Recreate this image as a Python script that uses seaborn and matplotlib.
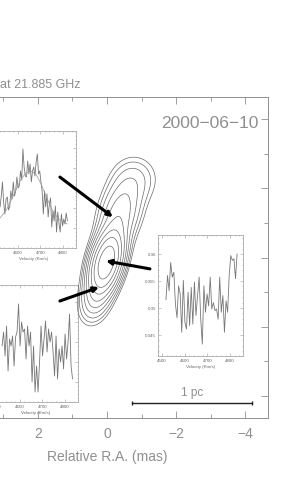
import numpy as np
import matplotlib
matplotlib.use("Agg")
import matplotlib.pyplot as plt
import seaborn as sns
from matplotlib.ticker import MultipleLocator

comp_x = [0.02, -0.38, -0.80, 0.35]
comp_y = [-0.15, 1.30, 2.30, -1.25]
comp_amp = [1.0, 0.17, 0.06, 0.10]
comp_smaj = [0.55, 0.60, 0.45, 0.45]
comp_smin = [0.25, 0.36, 0.45, 0.28]
comp_pa = [15, 15, 10, 15]
levels = [0.028, 0.042, 0.063, 0.095, 0.14, 0.21, 0.32, 0.47, 0.71]

# arrows (tail -> head, mas)
arrow_tail = [(1.36, 2.33), (-1.24, -0.33), (1.36, -1.26)]
arrow_head = [(-0.17, 1.17), (0.03, -0.10), (0.23, -0.86)]

# scale bar
bar_x = [-0.72, -4.19]
bar_y = [-4.22, -4.22]

# --- spectra ---
spec1_v = [4522, 4819]
spec1 = [0.341, 0.352, 0.366, 0.345, 0.334, 0.349, 0.351, 0.338, 0.341, 0.357,
         0.349, 0.366, 0.352, 0.357, 0.371, 0.360, 0.362, 0.377, 0.368, 0.399,
         0.381, 0.372, 0.371, 0.387, 0.374, 0.384, 0.366, 0.377, 0.381, 0.372,
         0.386, 0.394, 0.374, 0.377, 0.366, 0.357, 0.334, 0.357, 0.341, 0.354,
         0.331, 0.344, 0.350, 0.321, 0.337, 0.327, 0.342, 0.316, 0.336, 0.325,
         0.316, 0.334, 0.322, 0.329, 0.324, 0.335, 0.327]
fit1_v = [4522, 4550, 4580, 4610, 4635, 4657, 4680, 4705, 4730, 4755, 4780, 4800, 4819]
fit1 = [0.330, 0.338, 0.352, 0.367, 0.375, 0.377, 0.374, 0.363, 0.349, 0.337, 0.329, 0.326, 0.324]

spec2_v = [4522, 4833]
spec2 = [0.356, 0.370, 0.346, 0.376, 0.331, 0.363, 0.356, 0.366, 0.336, 0.365,
         0.370, 0.398, 0.356, 0.380, 0.370, 0.373, 0.343, 0.376, 0.356, 0.370,
         0.320, 0.356, 0.310, 0.336, 0.310, 0.340, 0.376, 0.346, 0.363, 0.381,
         0.350, 0.373, 0.360, 0.370, 0.350, 0.326, 0.366, 0.323, 0.353, 0.340,
         0.356, 0.333, 0.368, 0.343, 0.360, 0.388, 0.336, 0.323]

spec3_v = [4517, 4831]
spec3 = [0.3515, 0.3560, 0.3532, 0.3584, 0.3557, 0.3566, 0.3507, 0.3482, 0.3541, 0.3526,
         0.3455, 0.3551, 0.3473, 0.3461, 0.3529, 0.3467, 0.3538, 0.3470, 0.3548, 0.3486,
         0.3523, 0.3557, 0.3479, 0.3433, 0.3541, 0.3492, 0.3526, 0.3504, 0.3557, 0.3498,
         0.3510, 0.3495, 0.3498, 0.3479, 0.3557, 0.3492, 0.3523, 0.3455, 0.3513, 0.3492,
         0.3560, 0.3597, 0.3588, 0.3591, 0.3554, 0.3600]

sns.set_theme(style="ticks")
plt.rcParams["font.family"] = ["Liberation Sans", "DejaVu Sans"]
GREY = "#8f8f8f"

fig = plt.figure(figsize=(2.83, 4.81), dpi=100)
ax = fig.add_axes([-54 / 283, 62 / 481, 322 / 283, 321 / 481])
ax.set_zorder(3)
ax.patch.set_alpha(0)

# contour image
gx = np.linspace(-4.65, 4.65, 400)
gy = np.linspace(-4.65, 4.65, 400)
X, Y = np.meshgrid(gx, gy)
Z = np.zeros_like(X)
for x0, y0, a, sj, sn, pa in zip(comp_x, comp_y, comp_amp, comp_smaj, comp_smin, comp_pa):
    t = np.deg2rad(pa)
    dx, dy = X - x0, Y - y0
    u = -dx * np.sin(t) + dy * np.cos(t)
    w = dx * np.cos(t) + dy * np.sin(t)
    Z += a * np.exp(-0.5 * ((u / sj) ** 2 + (w / sn) ** 2))
ax.contour(X, Y, Z, levels=levels, colors="#6a6a6a", linewidths=0.5)

for (tx, ty), (hx, hy) in zip(arrow_tail, arrow_head):
    ax.annotate("", xy=(hx, hy), xytext=(tx, ty),
                arrowprops=dict(arrowstyle="-|>", lw=2.2, color="black",
                                mutation_scale=7, shrinkA=0, shrinkB=0),
                annotation_clip=False)

sns.lineplot(x=bar_x, y=bar_y, ax=ax, color="#222222", lw=1.0)
ax.plot(bar_x, bar_y, "|", color="#222222", ms=3, mew=1.0)
ax.text(np.mean(bar_x), -3.9, "1 pc", ha="center", va="center", fontsize=8.5, color=GREY)

ax.set_xlim(4.65, -4.65)
ax.set_ylim(-4.65, 4.65)
ax.xaxis.set_major_locator(MultipleLocator(2))
ax.xaxis.set_minor_locator(MultipleLocator(1))
ax.yaxis.set_major_locator(MultipleLocator(2))
ax.yaxis.set_minor_locator(MultipleLocator(1))
ax.tick_params(which="both", direction="in", top=True, right=True, color=GREY,
               labelcolor=GREY, labelsize=10, width=0.6, labelleft=False)
ax.tick_params(which="major", length=5, pad=6)
ax.tick_params(which="minor", length=3)
# the +4 label lies beyond the left edge of the cropped figure
ax.xaxis.set_major_formatter(
    plt.FuncFormatter(lambda v, p: "" if v > 3 else f"{v:g}".replace("-", "\u2212")))
for s in ax.spines.values():
    s.set_color(GREY)
    s.set_linewidth(0.7)
ax.set_xlabel("Relative R.A. (mas)", fontsize=10, color=GREY, labelpad=6)
ax.text(0.97, 0.92, "2000\u221206\u221210", transform=ax.transAxes, ha="right",
        va="center", fontsize=12.5, color=GREY)
fig.text(0.0, 1 - 85 / 481, "at 21.885 GHz", ha="left", va="center", fontsize=9, color=GREY)


def inset(rect, v_rng, vals, ylim, yticks, fit=None, left_labels=True):
    a = fig.add_axes(rect)
    a.set_zorder(1)
    v = np.linspace(v_rng[0], v_rng[1], len(vals))
    sns.lineplot(x=v, y=vals, ax=a, color="#777777", lw=0.6)
    if fit is not None:
        sns.lineplot(x=fit[0], y=fit[1], ax=a, color="#999999", lw=0.5)
    a.set_xlim(4482, 4857)
    a.set_ylim(*ylim)
    a.set_xticks([4500, 4600, 4700, 4800])
    a.xaxis.set_minor_locator(MultipleLocator(20))
    a.set_yticks(yticks)
    a.yaxis.set_minor_locator(MultipleLocator((yticks[1] - yticks[0]) / 5))
    a.tick_params(which="both", direction="in", top=True, right=True,
                  labelsize=3.2, color="#999999", labelcolor="#666666",
                  width=0.4, pad=1.5, labelleft=left_labels)
    a.tick_params(which="major", length=2)
    a.tick_params(which="minor", length=1)
    a.set_xlabel("Velocity (Km/s)", fontsize=3.2, color="#666666", labelpad=1.5)
    for s in a.spines.values():
        s.set_color("#aaaaaa")
        s.set_linewidth(0.6)
    return a


inset([-9 / 283, 232 / 481, 85 / 283, 117 / 481], spec1_v, spec1, (0.300, 0.417),
      [0.32, 0.34, 0.36, 0.38, 0.40], fit=(fit1_v, fit1), left_labels=False)
inset([-7 / 283, 78 / 481, 85 / 283, 117 / 481], spec2_v, spec2, (0.300, 0.417),
      [0.32, 0.34, 0.36, 0.38, 0.40], left_labels=False)
a3 = inset([158 / 283, 124 / 481, 85 / 283, 121 / 481], spec3_v, spec3, (0.3411, 0.3635),
           [0.345, 0.35, 0.355, 0.36])
a3.yaxis.set_major_formatter(plt.FuncFormatter(lambda v, p: f"{v:g}"))
a3.yaxis.set_minor_locator(MultipleLocator(0.001))

fig.savefig("out.png", dpi=100)
